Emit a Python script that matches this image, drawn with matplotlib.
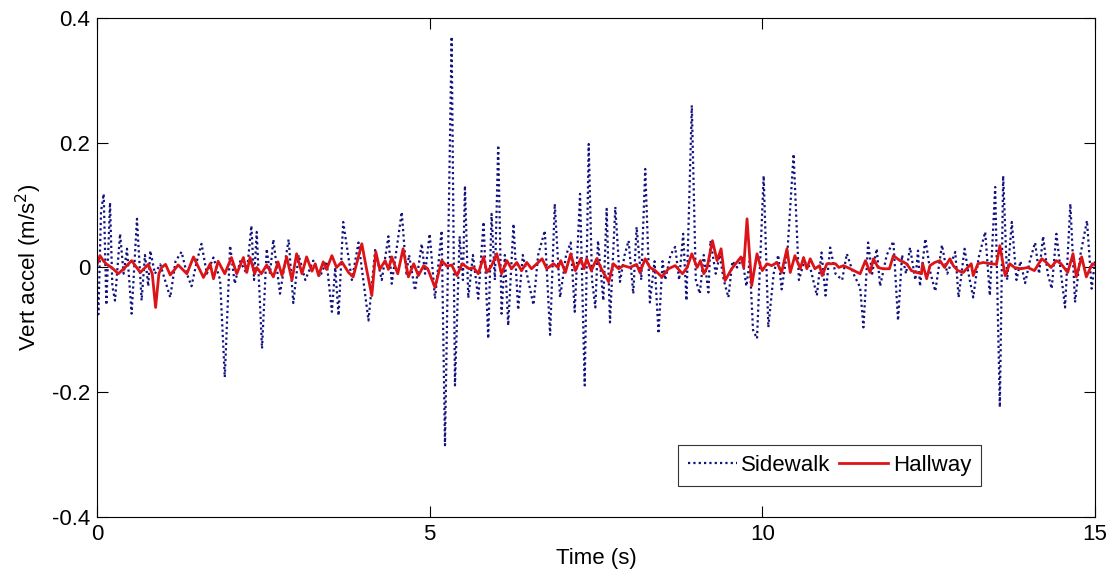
import numpy as np
import matplotlib
matplotlib.use('Agg')
import matplotlib.pyplot as plt

plt.rcParams['font.family'] = ['Liberation Sans', 'DejaVu Sans']
plt.rcParams['axes.unicode_minus'] = False

# valeurs (temps en s, accel en m/s^2)
sidewalk_t = [0.00, 0.02, 0.06, 0.10, 0.14, 0.195, 0.23, 0.27, 0.346, 0.40, 0.45, 0.52, 0.60, 0.67, 0.72, 0.77,
              0.80, 0.87, 0.95, 1.02, 1.10, 1.18, 1.27, 1.35, 1.42, 1.50, 1.57, 1.65, 1.75, 1.85, 1.92, 2.00,
              2.07, 2.15, 2.25, 2.32, 2.36, 2.40, 2.48, 2.55, 2.60, 2.65, 2.75, 2.88, 2.95, 3.03, 3.13, 3.25,
              3.35, 3.45, 3.53, 3.58, 3.63, 3.70, 3.83, 3.93, 4.08, 4.18, 4.28, 4.38, 4.43, 4.58, 4.65, 4.69,
              4.78, 4.88, 4.93, 5.00, 5.08, 5.18, 5.23, 5.33, 5.38, 5.45, 5.50, 5.53, 5.58, 5.65, 5.73, 5.81,
              5.88, 5.93, 5.98, 6.03, 6.08, 6.13, 6.18, 6.26, 6.33, 6.40, 6.48, 6.56, 6.63, 6.73, 6.81, 6.88,
              6.96, 7.05, 7.12, 7.18, 7.26, 7.33, 7.39, 7.44, 7.49, 7.53, 7.61, 7.66, 7.71, 7.79, 7.86, 7.93,
              7.99, 8.06, 8.11, 8.18, 8.24, 8.31, 8.38, 8.44, 8.50, 8.54, 8.62, 8.69, 8.75, 8.81, 8.86, 8.94,
              9.00, 9.06, 9.12, 9.19, 9.22, 9.30, 9.36, 9.42, 9.49, 9.55, 9.62, 9.70, 9.76, 9.81, 9.86, 9.92,
              10.02, 10.09, 10.17, 10.24, 10.29, 10.38, 10.47, 10.55, 10.63, 10.72, 10.82, 10.89, 10.95, 11.02,
              11.10, 11.20, 11.27, 11.37, 11.47, 11.52, 11.59, 11.65, 11.72, 11.77, 11.87, 11.97, 12.04, 12.10,
              12.16, 12.22, 12.30, 12.34, 12.37, 12.45, 12.53, 12.60, 12.70, 12.78, 12.90, 12.95, 13.04, 13.10,
              13.17, 13.25, 13.35, 13.42, 13.50, 13.57, 13.62, 13.68, 13.75, 13.82, 13.88, 13.95, 14.02, 14.10,
              14.16, 14.22, 14.29, 14.35, 14.42, 14.55, 14.63, 14.70, 14.78, 14.88, 14.95, 15.00]
sidewalk_a = [-0.03, -0.075, 0.09, 0.118, -0.06, 0.104, -0.03, -0.053, 0.054, -0.01, 0.03, -0.074, 0.078, -0.053,
              0.02, -0.03, 0.027, -0.01, 0.005, -0.02, -0.048, 0.01, 0.025, -0.01, -0.03, 0.01, 0.038, -0.01,
              0.016, -0.02, -0.176, 0.035, -0.026, 0.01, -0.01, 0.067, -0.02, 0.057, -0.130, 0.03, -0.01, 0.045,
              -0.042, 0.045, -0.057, 0.02, -0.02, 0.011, -0.015, 0.01, -0.071, 0.0, -0.077, 0.073, -0.02, 0.04,
              -0.085, 0.028, -0.02, 0.05, -0.026, 0.089, -0.01, 0.02, -0.037, 0.038, -0.01, 0.054, -0.05, 0.059,
              -0.285, 0.37, -0.189, 0.05, -0.02, 0.131, -0.049, 0.02, -0.05, 0.073, -0.114, 0.086, -0.02, 0.196,
              -0.074, 0.02, -0.093, 0.07, -0.068, 0.02, -0.02, -0.06, 0.02, 0.059, -0.108, 0.102, -0.048, 0.02,
              0.04, -0.071, 0.118, -0.189, 0.198, -0.02, -0.064, 0.043, -0.053, 0.094, -0.088, 0.097, -0.023, 0.02,
              0.043, -0.042, 0.065, -0.02, 0.158, -0.056, 0.01, -0.106, 0.01, -0.02, 0.02, 0.033, -0.02, 0.054,
              -0.053, 0.26, -0.02, -0.042, 0.02, -0.04, 0.043, -0.01, 0.02, -0.02, -0.048, 0.01, 0.0, 0.015,
              -0.03, 0.01, -0.10, -0.114, 0.147, -0.096, -0.01, 0.02, -0.035, 0.03, 0.182, -0.02, 0.01, 0.0,
              -0.045, 0.024, -0.045, 0.032, -0.01, -0.02, 0.022, -0.01, -0.032, -0.096, 0.04, -0.01, 0.03, -0.03,
              0.02, 0.042, -0.085, 0.02, -0.01, 0.032, -0.02, 0.027, -0.03, 0.046, -0.01, -0.038, 0.036, -0.01,
              0.025, -0.048, 0.03, -0.01, -0.048, 0.015, 0.057, -0.045, 0.129, -0.224, 0.147, -0.02, 0.073, -0.02,
              0.01, -0.025, 0.01, 0.04, -0.01, 0.05, -0.01, -0.034, 0.054, -0.064, 0.102, -0.056, 0.02, 0.075,
              -0.034, 0.01]

hallway_t = [0.00, 0.045, 0.10, 0.145, 0.22, 0.32, 0.42, 0.52, 0.65, 0.77, 0.83, 0.88, 0.93, 0.97, 1.03, 1.10,
             1.22, 1.35, 1.45, 1.60, 1.70, 1.75, 1.82, 1.92, 2.02, 2.10, 2.20, 2.25, 2.30, 2.37, 2.40, 2.47,
             2.55, 2.65, 2.72, 2.78, 2.85, 2.93, 3.00, 3.08, 3.15, 3.23, 3.28, 3.33, 3.40, 3.45, 3.53, 3.60,
             3.68, 3.78, 3.85, 3.98, 4.05, 4.13, 4.19, 4.25, 4.33, 4.38, 4.43, 4.52, 4.60, 4.68, 4.76, 4.83,
             4.91, 4.97, 5.08, 5.18, 5.26, 5.33, 5.41, 5.49, 5.59, 5.66, 5.73, 5.81, 5.86, 5.93, 6.01, 6.08,
             6.16, 6.23, 6.31, 6.38, 6.46, 6.53, 6.69, 6.76, 6.86, 6.93, 6.97, 7.04, 7.12, 7.19, 7.27, 7.32,
             7.36, 7.43, 7.51, 7.58, 7.69, 7.76, 7.84, 7.91, 8.01, 8.11, 8.16, 8.24, 8.31, 8.39, 8.49, 8.59,
             8.69, 8.80, 8.87, 8.94, 9.02, 9.07, 9.12, 9.17, 9.25, 9.32, 9.38, 9.44, 9.54, 9.68, 9.72, 9.77,
             9.84, 9.92, 9.97, 10.00, 10.07, 10.14, 10.22, 10.29, 10.37, 10.42, 10.49, 10.57, 10.62, 10.67,
             10.72, 10.79, 10.86, 10.90, 10.97, 11.10, 11.15, 11.22, 11.32, 11.47, 11.55, 11.62, 11.67, 11.74,
             11.81, 11.91, 11.97, 12.07, 12.17, 12.24, 12.32, 12.39, 12.41, 12.47, 12.52, 12.59, 12.67, 12.74,
             12.82, 12.87, 12.94, 13.02, 13.14, 13.17, 13.24, 13.32, 13.44, 13.52, 13.57, 13.65, 13.72, 13.79,
             13.89, 13.99, 14.09, 14.20, 14.27, 14.34, 14.42, 14.49, 14.59, 14.67, 14.72, 14.80, 14.87, 14.96,
             15.00]
hallway_a = [0.005, 0.019, 0.01, 0.005, 0.0, -0.01, 0.0, 0.011, -0.008, 0.005, -0.01, -0.064, -0.01, 0.0, 0.005,
             -0.012, 0.004, -0.01, 0.017, -0.016, 0.006, -0.018, 0.01, -0.01, 0.016, -0.01, 0.016, -0.008, 0.016,
             -0.01, 0.0, -0.01, 0.004, -0.015, 0.009, -0.013, 0.017, -0.02, 0.022, -0.01, 0.017, -0.006, 0.006,
             -0.013, 0.009, -0.003, 0.019, 0.0, 0.009, -0.008, -0.015, 0.038, -0.002, -0.045, 0.025, -0.003, 0.011,
             -0.003, 0.017, -0.01, 0.03, -0.015, 0.006, -0.013, 0.003, -0.002, -0.032, 0.011, 0.002, 0.004, -0.013,
             0.006, -0.002, 0.0, -0.01, 0.017, -0.008, 0.003, 0.022, -0.01, 0.011, -0.002, 0.008, -0.005, 0.008,
             -0.002, 0.014, -0.002, 0.006, 0.0, 0.011, -0.008, 0.022, -0.005, 0.014, -0.002, 0.014, -0.005, 0.014,
             -0.002, -0.023, 0.006, -0.002, 0.003, 0.0, 0.005, -0.008, 0.014, 0.0, -0.005, -0.015, -0.002, 0.003,
             -0.01, 0.0, 0.022, 0.0, 0.011, -0.01, 0.0, 0.043, 0.011, 0.03, -0.021, -0.002, 0.017, 0.0, 0.078,
             -0.029, 0.022, 0.003, -0.005, 0.006, 0.003, 0.008, -0.008, 0.03, -0.008, 0.019, -0.002, 0.016, -0.002,
             0.014, -0.002, 0.003, -0.013, 0.006, 0.006, 0.0, 0.003, -0.002, -0.01, 0.011, -0.008, 0.014, 0.0,
             -0.002, -0.002, 0.019, 0.011, 0.006, -0.005, -0.008, -0.01, 0.006, -0.018, 0.003, 0.008, 0.011, 0.0,
             0.014, 0.003, -0.005, -0.008, 0.006, -0.013, 0.006, 0.008, 0.006, 0.005, 0.035, -0.013, 0.006, 0.0,
             -0.002, 0.0, -0.005, 0.014, 0.008, 0.0, 0.011, 0.006, -0.008, 0.022, -0.015, 0.017, -0.015, 0.006,
             0.004]

x_ticks = [0, 5, 10, 15]
y_ticks = [-0.4, -0.2, 0, 0.2, 0.4]
y_labels = ['-0.4', '-0.2', '0', '0.2', '0.4']

fig = plt.figure(figsize=(11.18, 5.8), dpi=100)
ax = fig.add_axes([0.0868, 0.1086, 0.8926, 0.8604])

ax.plot(sidewalk_t, sidewalk_a, color='#12127e', linestyle=(0, (1, 1.4)), linewidth=1.6, label='Sidewalk')
ax.plot(hallway_t, hallway_a, color='#dc1418', linestyle='-', linewidth=2, label='Hallway')

ax.set_xlim(0, 15)
ax.set_ylim(-0.4, 0.4)
ax.set_xticks(x_ticks)
ax.set_yticks(y_ticks)
ax.set_yticklabels(y_labels)
ax.tick_params(direction='in', length=8, width=0.8, top=True, right=True, labelsize=16, pad=5)
for s in ax.spines.values():
    s.set_linewidth(0.8)

ax.set_xlabel('Time (s)', fontsize=16, labelpad=2)
ax.set_ylabel('Vert accel (m/s$^2$)', fontsize=16, labelpad=6)

leg = ax.legend(loc='lower right', bbox_to_anchor=(0.886, 0.062), ncol=2, fontsize=16, frameon=True,
                fancybox=False, edgecolor='black', handlelength=2.2, handletextpad=0.2, columnspacing=0.4,
                borderpad=0.45, borderaxespad=0)
leg.get_frame().set_linewidth(0.8)

fig.savefig('out.png', dpi=100)
